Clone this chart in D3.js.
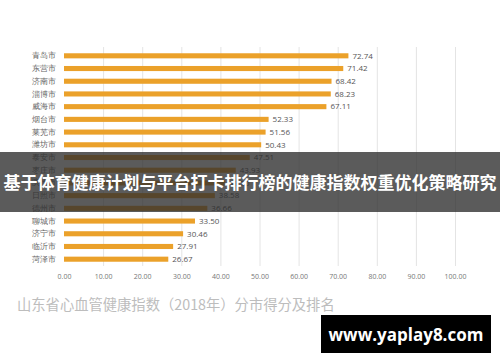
<!DOCTYPE html>
<html>
<head>
<meta charset="utf-8">
<script src="https://cdn.jsdelivr.net/npm/d3@7"></script>
<style>
  html, body { margin: 0; padding: 0; background: #fff; }
  svg { display: block; font-family: "Noto Sans CJK SC", "Noto Sans", sans-serif; }
</style>
</head>
<body>
<script>
// 城市名称
var cities = ['青岛市', '东营市', '济南市', '淄博市', '威海市', '烟台市', '莱芜市', '潍坊市',
  '泰安市', '枣庄市', '滨州市', '日照市', '德州市', '聊城市', '济宁市', '临沂市', '菏泽市'];
// 得分
var scores = [72.74, 71.42, 68.42, 68.23, 67.11, 52.33, 51.56, 50.43,
  47.51, 43.93, 41.20, 38.58, 36.66, 33.50, 30.46, 27.91, 26.67];
// x轴刻度
var xTicks = [0, 10, 20, 30, 40, 50, 60, 70, 80, 90, 100];
var chartTitle = '山东省心血管健康指数（2018年）分市得分及排名';
var bannerText = '基于体育健康计划与平台打卡排行榜的健康指数权重优化策略研究';
var siteText = 'www.yaplay8.com';

var svgWidth = 500;
var svgHeight = 362;
var margin = { top: 52, right: 45, bottom: 99, left: 64 };

var svg = d3.select('body')
  .append('svg')
  .attr('width', svgWidth)
  .attr('height', svgHeight);

// x轴比例尺
var x = d3.scaleLinear()
  .domain([0, 100])
  .range([margin.left, 455]);

// y轴比例尺
var y = d3.scaleBand()
  .domain(cities)
  .range([margin.top, svgHeight - margin.bottom])
  .paddingInner(0.6)
  .paddingOuter(0.1);

// 网格线
svg.append('g')
  .selectAll('line')
  .data(xTicks.slice(1))
  .join('line')
  .attr('x1', d => x(d) + 0.5)
  .attr('x2', d => x(d) + 0.5)
  .attr('y1', 47)
  .attr('y2', 266)
  .attr('stroke', '#e4e4e4')
  .attr('stroke-width', 1);

// x轴
var xAxis = svg.append('g')
  .attr('transform', 'translate(0,268)')
  .call(d3.axisBottom(x).tickValues(xTicks).tickFormat(d3.format('.2f')).tickSize(0).tickPadding(6));
xAxis.select('.domain').remove();
xAxis.selectAll('text')
  .attr('fill', '#777')
  .style('font-size', '7px')
  .style('font-family', '"Open Sans", "Noto Sans", sans-serif');

// y轴
var yAxis = svg.append('g')
  .attr('transform', 'translate(' + (margin.left - 1) + ',0)')
  .call(d3.axisLeft(y).tickSize(0).tickPadding(7));
yAxis.select('.domain').remove();
yAxis.selectAll('text')
  .attr('fill', '#666')
  .style('font-size', '8px');

// 柱子
var rows = svg.append('g')
  .selectAll('g')
  .data(cities)
  .join('g');

rows.append('rect')
  .attr('x', x(0))
  .attr('y', d => y(d))
  .attr('width', (d, i) => x(scores[i]) - x(0))
  .attr('height', y.bandwidth())
  .attr('fill', '#eba12a');

rows.append('text')
  .attr('x', (d, i) => x(scores[i]) + 4)
  .attr('y', d => y(d) + y.bandwidth() / 2)
  .attr('dy', '0.35em')
  .attr('fill', '#555')
  .style('font-size', '8px')
  .style('font-family', '"Open Sans", "Noto Sans", sans-serif')
  .text((d, i) => scores[i].toFixed(2));

// 图表标题
svg.append('text')
  .attr('x', 17)
  .attr('y', 310)
  .attr('fill', '#bdbdbd')
  .style('font-size', '14.3px')
  .text(chartTitle);

// 横幅
svg.append('rect')
  .attr('x', 0)
  .attr('y', 152)
  .attr('width', svgWidth)
  .attr('height', 60)
  .attr('fill', 'rgba(45,45,45,0.78)');

svg.append('text')
  .attr('x', svgWidth / 2)
  .attr('y', 183)
  .attr('dy', '0.35em')
  .attr('text-anchor', 'middle')
  .attr('fill', '#fff')
  .style('font-size', '17px')
  .style('font-weight', 'bold')
  .text(bannerText);

// 网址水印
svg.append('rect')
  .attr('x', 321)
  .attr('y', 315)
  .attr('width', 170)
  .attr('height', 38)
  .attr('fill', '#000');

svg.append('text')
  .attr('x', 406)
  .attr('y', 335)
  .attr('dy', '0.35em')
  .attr('text-anchor', 'middle')
  .attr('fill', '#fff')
  .style('font-size', '17px')
  .style('font-weight', 'bold')
  .style('font-family', '"Open Sans", "Noto Sans", sans-serif')
  .text(siteText);
</script>
</body>
</html>
